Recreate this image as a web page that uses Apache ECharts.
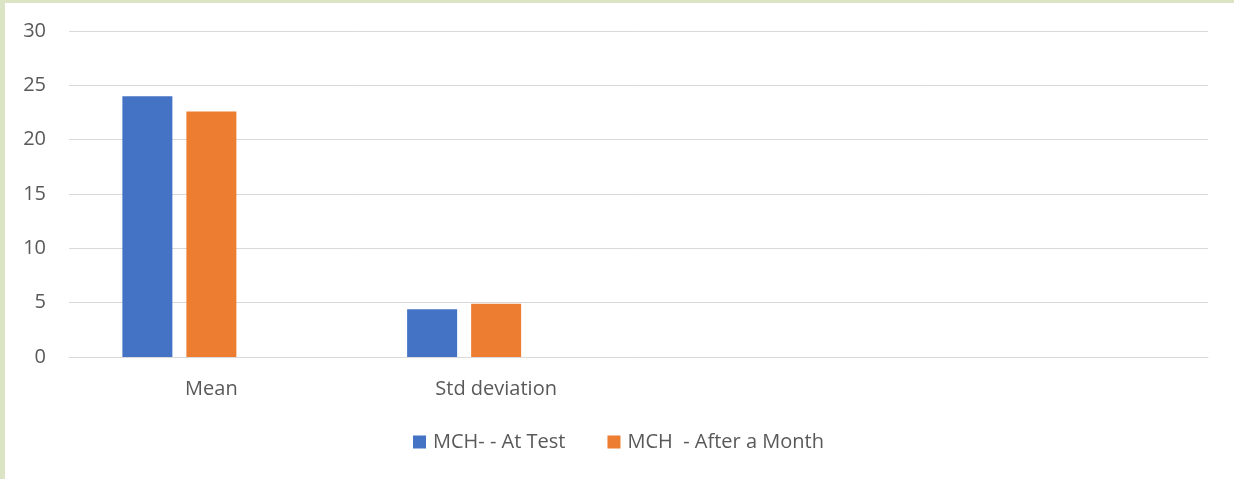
<!DOCTYPE html>
<html>
<head>
<meta charset="utf-8">
<script src="https://cdn.jsdelivr.net/npm/echarts@6/dist/echarts.min.js"></script>
<style>
html,body{margin:0;padding:0;background:#dbe5c6;}
#wrap{position:absolute;left:5px;top:3px;width:1229px;height:476px;background:#fff;}
#c{position:absolute;left:-5px;top:-3px;width:1234px;height:479px;}
</style>
</head>
<body>
<div id="wrap"><div id="c"></div></div>
<script>
const categories = ['Mean', 'Std deviation', '', ''];
const seriesNames = ['MCH- - At Test', 'MCH  - After a Month'];
const atTest = [24.0, 4.4, null, null];
const afterMonth = [22.6, 4.9, null, null];
const emptySeries = [null, null, null, null];
const yTicks = [0, 5, 10, 15, 20, 25, 30];

const font = '"Open Sans", "DejaVu Sans", sans-serif';
const chart = echarts.init(document.getElementById('c'), null, {renderer: 'canvas'});
chart.setOption({
  animation: false,
  backgroundColor: 'transparent',
  grid: {left: 69, right: 26, top: 31, bottom: 122, containLabel: false},
  legend: {
    data: seriesNames,
    left: 413, top: 432, padding: 0,
    icon: 'rect', itemWidth: 13, itemHeight: 13, itemGap: 42,
    textStyle: {color: '#595959', fontSize: 20, fontFamily: font, padding: [0, 0, 0, 2]}
  },
  xAxis: {
    type: 'category',
    data: categories,
    axisLine: {show: true, lineStyle: {color: '#d9d9d9', width: 1}},
    axisTick: {show: false},
    axisLabel: {color: '#595959', fontSize: 20, fontFamily: font, margin: 22, interval: 0}
  },
  yAxis: {
    type: 'value',
    min: yTicks[0], max: yTicks[yTicks.length - 1], interval: 5,
    axisLine: {show: false},
    axisTick: {show: false},
    splitLine: {lineStyle: {color: '#d9d9d9', width: 1}},
    axisLabel: {color: '#595959', fontSize: 20, fontFamily: font, margin: 23}
  },
  series: [
    {name: seriesNames[0], type: 'bar', data: atTest, barWidth: 50, barGap: '28%', itemStyle: {color: '#4472c4'}},
    {name: seriesNames[1], type: 'bar', data: afterMonth, barWidth: 50, barGap: '28%', itemStyle: {color: '#ed7d31'}},
    {name: '', type: 'bar', data: emptySeries, barWidth: 50, barGap: '28%', itemStyle: {color: '#a5a5a5'}}
  ]
});
</script>
</body>
</html>
